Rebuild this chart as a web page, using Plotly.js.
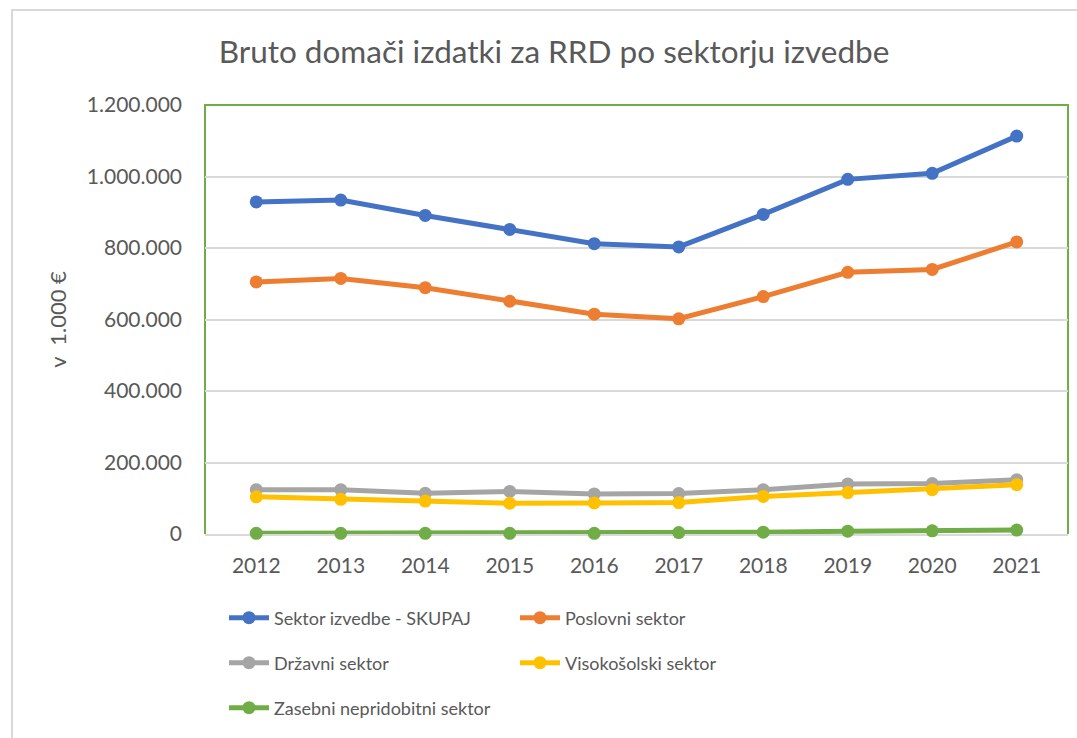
<!DOCTYPE html>
<html>
<head>
<meta charset="utf-8">
<script src="https://cdn.plot.ly/plotly-3.0.1.min.js"></script>
<style>
html,body{margin:0;padding:0;background:#fff;overflow:hidden;}
#chart{width:1077px;height:738px;}
</style>
</head>
<body>
<div id="chart"></div>
<script>
const years = ['2012','2013','2014','2015','2016','2017','2018','2019','2020','2021'];
const skupaj = [929000, 934000, 891000, 852000, 812000, 803000, 894000, 992000, 1009000, 1113000];
const poslovni = [705000, 715000, 689000, 651000, 615000, 602000, 664000, 732000, 740000, 817000];
const drzavni = [124000, 124000, 114000, 119000, 112000, 113000, 124000, 140000, 141000, 152000];
const visokosolski = [104000, 97000, 92000, 86000, 87000, 88000, 105000, 116000, 124000, 138000];
const zasebni = [2000, 2000, 2000, 2000, 2000, 4000, 5000, 8000, 9000, 11000];

const names = ['Sektor izvedbe - SKUPAJ','Poslovni sektor','Državni sektor','Visokošolski sektor','Zasebni nepridobitni sektor'];
const colors = ['#4472C4','#ED7D31','#A5A5A5','#FFC000','#70AD47'];
const series = [skupaj, poslovni, drzavni, visokosolski, zasebni];
const legendIds = ['legend','legend','legend2','legend2','legend3'];

const FONT = 'Lato, "Open Sans", sans-serif';
const TXT = '#595959';

const traces = series.map((vals, i) => ({
  type: 'scatter',
  mode: 'lines+markers',
  x: years,
  y: vals,
  name: names[i],
  legend: legendIds[i],
  cliponaxis: false,
  line: {color: colors[i], width: 5},
  marker: {color: colors[i], size: 13},
  hoverinfo: 'x+y+name'
}));

const legendBase = {
  orientation: 'h',
  xref: 'container', yref: 'container',
  x: 224/1077, xanchor: 'left', yanchor: 'middle',
  font: {family: FONT, size: 18, color: TXT},
  bgcolor: 'rgba(0,0,0,0)',
  entrywidth: 236, entrywidthmode: 'pixels',
  itemwidth: 40,
  traceorder: 'normal'
};

const layout = {
  width: 1077, height: 738,
  paper_bgcolor: '#ffffff', plot_bgcolor: '#ffffff',
  separators: ',.',
  margin: {l: 205, r: 9, t: 105, b: 204},
  font: {family: FONT, color: TXT},
  title: {
    text: 'Bruto domači izdatki za RRD po sektorju izvedbe',
    font: {family: FONT, size: 31.5, color: TXT},
    xref: 'container', yref: 'container',
    x: 554/1077, xanchor: 'center',
    y: 1 - 52/738, yanchor: 'middle'
  },
  xaxis: {
    type: 'category',
    showgrid: false,
    showline: true, linecolor: '#D9D9D9', linewidth: 1.5,
    layer: 'below traces',
    ticks: '', ticklabelstandoff: 12,
    tickfont: {family: FONT, size: 21, color: TXT},
    fixedrange: true
  },
  yaxis: {
    range: [0, 1200000],
    dtick: 200000, tick0: 0,
    tickformat: ',d',
    showgrid: true, gridcolor: '#D9D9D9', gridwidth: 1.5,
    zeroline: false, showline: false,
    layer: 'below traces',
    ticks: '', ticklabelstandoff: 22,
    tickfont: {family: FONT, size: 21, color: TXT},
    title: {text: 'v  1.000 €', font: {family: FONT, size: 22, color: TXT}, standoff: 14},
    fixedrange: true
  },
  legend: Object.assign({}, legendBase, {y: 1 - 618/738}),
  legend2: Object.assign({}, legendBase, {y: 1 - 663/738}),
  legend3: Object.assign({}, legendBase, {y: 1 - 708/738}),
  shapes: [
    {type: 'path', xref: 'paper', yref: 'paper',
     path: 'M 0,0 L 0,1 L 1,1 L 1,0', line: {color: '#70AD47', width: 2}, layer: 'below'},
    {type: 'rect', xref: 'paper', yref: 'paper',
     x0: (12-205)/863, x1: (1090-205)/863, y0: -0.6, y1: (534-10)/429,
     line: {color: '#D9D9D9', width: 2}, layer: 'below'}
  ],
  showlegend: true
};

Plotly.newPlot('chart', traces, layout, {displayModeBar: false, staticPlot: false});
</script>
</body>
</html>
